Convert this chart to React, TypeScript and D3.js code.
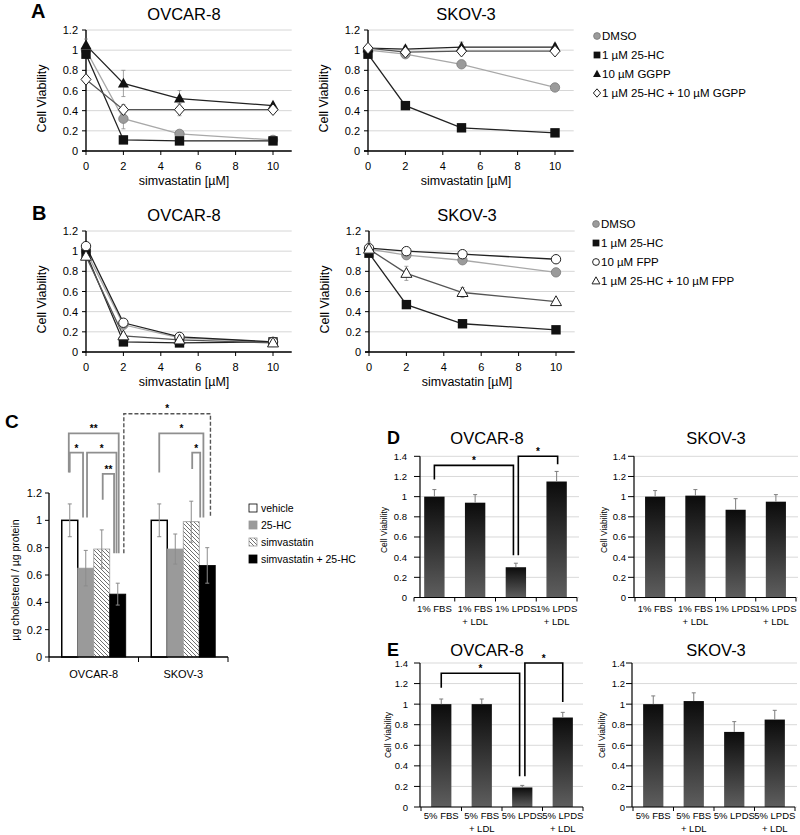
import React from "react";
import * as d3 from "d3";

const FONT = "'Liberation Sans', Arial, Helvetica, sans-serif";

// ---------- Line charts (A, B) ----------
const doses = [0, 2, 5, 10];
const lineYTicks = [0, 0.2, 0.4, 0.6, 0.8, 1, 1.2];
const lineXTicks = [0, 2, 4, 6, 8, 10];

const legendA = ["DMSO", "1 µM 25-HC", "10 µM GGPP", "1 µM 25-HC + 10 µM GGPP"];
const legendB = ["DMSO", "1 µM 25-HC", "10 µM FPP", "1 µM 25-HC + 10 µM FPP"];
const markersA = ["grayCircle", "square", "triangle", "diamond"];
const markersB = ["grayCircle", "square", "whiteCircle", "whiteTriangle"];
const lineColors = ["#a8a8a8", "#222", "#222", "#555"];

// A – OVCAR-8
const aOvDmso = [1.0, 0.32, 0.17, 0.11];
const aOvDmsoErr = [0.03, 0.1, 0.03, 0.02];
const aOvHc = [0.96, 0.11, 0.1, 0.1];
const aOvHcErr = [0.03, 0.02, 0.02, 0.01];
const aOvGgpp = [1.05, 0.67, 0.52, 0.45];
const aOvGgppErr = [0.06, 0.13, 0.08, 0.02];
const aOvCombo = [0.71, 0.41, 0.41, 0.41];
const aOvComboErr = [0.03, 0.05, 0.06, 0.02];
// A – SKOV-3
const aSkDmso = [1.0, 0.96, 0.86, 0.63];
const aSkDmsoErr = [0.02, 0.02, 0.03, 0.03];
const aSkHc = [0.96, 0.45, 0.23, 0.18];
const aSkHcErr = [0.02, 0.02, 0.02, 0.02];
const aSkGgpp = [1.02, 1.01, 1.03, 1.03];
const aSkGgppErr = [0.02, 0.03, 0.05, 0.03];
const aSkCombo = [1.02, 0.98, 0.99, 0.99];
const aSkComboErr = [0.02, 0.02, 0.02, 0.02];
// B – OVCAR-8
const bOvDmso = [1.0, 0.27, 0.14, 0.1];
const bOvDmsoErr = [0.02, 0.02, 0.02, 0.01];
const bOvHc = [0.98, 0.1, 0.09, 0.1];
const bOvHcErr = [0.02, 0.02, 0.01, 0.01];
const bOvFpp = [1.05, 0.29, 0.15, 0.1];
const bOvFppErr = [0.02, 0.02, 0.02, 0.01];
const bOvCombo = [0.95, 0.16, 0.12, 0.09];
const bOvComboErr = [0.02, 0.02, 0.02, 0.01];
// B – SKOV-3
const bSkDmso = [1.02, 0.96, 0.91, 0.79];
const bSkDmsoErr = [0.03, 0.02, 0.02, 0.03];
const bSkHc = [0.98, 0.47, 0.28, 0.22];
const bSkHcErr = [0.03, 0.02, 0.02, 0.02];
const bSkFpp = [1.03, 1.0, 0.97, 0.92];
const bSkFppErr = [0.02, 0.02, 0.02, 0.02];
const bSkCombo = [1.02, 0.78, 0.59, 0.5];
const bSkComboErr = [0.07, 0.07, 0.05, 0.03];

// ---------- Panel C ----------
const cGroups = ["OVCAR-8", "SKOV-3"];
const cSeries = ["vehicle", "25-HC", "simvastatin", "simvastatin + 25-HC"];
const cOvcar = [1.0, 0.65, 0.79, 0.46];
const cOvcarErr = [0.12, 0.13, 0.14, 0.08];
const cSkov = [1.0, 0.79, 0.99, 0.67];
const cSkovErr = [0.12, 0.11, 0.15, 0.13];
const cYTicks = [0, 0.2, 0.4, 0.6, 0.8, 1, 1.2];
// significance brackets: [group, series, fraction-in-bar] ends, bar height, leg ends
const cBrackets = [
  { a: [0, 0, 0.44], b: [0, 3, 0.56], h: 1.636, ha: 1.35, hb: 0.76, label: "**", dashed: false },
  { a: [0, 0, 0.5], b: [0, 1, 0.33], h: 1.495, ha: 1.35, hb: 1.02, label: "*", dashed: false },
  { a: [0, 1, 0.58], b: [0, 3, 0.42], h: 1.495, ha: 1.02, hb: 0.76, label: "*", dashed: false },
  { a: [0, 2, 0.56], b: [0, 3, 0.27], h: 1.34, ha: 1.15, hb: 0.76, label: "**", dashed: false },
  { a: [0, 3, 0.88], b: [1, 3, 0.7], h: 1.78, ha: 0.76, hb: 1.02, label: "*", dashed: true },
  { a: [1, 0, 0.5], b: [1, 3, 0.26], h: 1.636, ha: 1.35, hb: 1.02, label: "*", dashed: false },
  { a: [1, 2, 0.56], b: [1, 3, 0.06], h: 1.495, ha: 1.375, hb: 1.02, label: "*", dashed: false },
];

// ---------- Panels D, E ----------
const barYTicks = [0, 0.2, 0.4, 0.6, 0.8, 1, 1.2, 1.4];
const dCats = [["1% FBS"], ["1% FBS", "+ LDL"], ["1% LPDS"], ["1% LPDS", "+ LDL"]];
const eCats = [["5% FBS"], ["5% FBS", "+ LDL"], ["5% LPDS"], ["5% LPDS", "+ LDL"]];
const dOvcar = [1.0, 0.94, 0.3, 1.15];
const dOvcarErr = [0.07, 0.08, 0.04, 0.1];
const dSkov = [1.0, 1.01, 0.87, 0.95];
const dSkovErr = [0.06, 0.06, 0.11, 0.07];
const eOvcar = [1.0, 1.0, 0.19, 0.87];
const eOvcarErr = [0.05, 0.05, 0.02, 0.05];
const eSkov = [1.0, 1.03, 0.73, 0.85];
const eSkovErr = [0.08, 0.08, 0.1, 0.09];
const dBrackets = [
  { a: [0, 0.5], b: [2, 0.38], h: 1.31, ha: 1.17, hb: 0.42 },
  { a: [2, 0.62], b: [3, 0.55], h: 1.4, ha: 0.42, hb: 1.32 },
];
const eBrackets = [
  { a: [0, 0.5], b: [2, 0.37], h: 1.3, ha: 1.16, hb: 0.3 },
  { a: [2, 0.63], b: [3, 0.5], h: 1.4, ha: 0.3, hb: 1.02 },
];

const fmt = (v: number) => d3.format("~g")(v);

function Marker({ type, cx, cy, s = 1 }: { type: string; cx: number; cy: number; s?: number }) {
  const r = 4.7 * s;
  switch (type) {
    case "grayCircle":
      return <circle cx={cx} cy={cy} r={r} fill="#9b9b9b" stroke="#7a7a7a" strokeWidth={0.8} />;
    case "whiteCircle":
      return <circle cx={cx} cy={cy} r={r} fill="#fff" stroke="#222" strokeWidth={1} />;
    case "square":
      return <rect x={cx - r} y={cy - r} width={2 * r} height={2 * r} fill="#111" />;
    case "triangle":
      return <path d={`M${cx},${cy - 5.8 * s}L${cx + 5.5 * s},${cy + 4 * s}L${cx - 5.5 * s},${cy + 4 * s}Z`} fill="#111" />;
    case "whiteTriangle":
      return (
        <path d={`M${cx},${cy - 5.8 * s}L${cx + 5.5 * s},${cy + 4 * s}L${cx - 5.5 * s},${cy + 4 * s}Z`} fill="#fff" stroke="#222" strokeWidth={1} />
      );
    case "diamond":
      return (
        <path d={`M${cx},${cy - 5.8 * s}L${cx + 5 * s},${cy}L${cx},${cy + 5.8 * s}L${cx - 5 * s},${cy}Z`} fill="#fff" stroke="#222" strokeWidth={1} />
      );
    default:
      return null;
  }
}

type LineSeries = { vals: number[]; errs: number[]; marker: string; color: string };

function LineChart({ x0, yTop, yBot, title, titleY, ylabX, series }: {
  x0: number; yTop: number; yBot: number; title: string; titleY: number; ylabX: number; series: LineSeries[];
}) {
  const x = d3.scaleLinear().domain([0, 10]).range([x0, x0 + 187]);
  const y = d3.scaleLinear().domain([0, 1.2]).range([yBot, yTop]);
  const xEnd = x(11);
  const line = d3.line<number>().x((_, i) => x(doses[i])).y((d) => y(d));
  const cx = x0 + 98;
  return (
    <g>
      {lineYTicks.map((t) => (
        <line key={"g" + t} x1={x0} x2={xEnd} y1={y(t)} y2={y(t)} stroke="#d6d6d6" strokeWidth={1} />
      ))}
      <line x1={x0} x2={x0} y1={yTop} y2={yBot} stroke="#000" strokeWidth={1.4} />
      <line x1={x0 - 4} x2={xEnd} y1={yBot} y2={yBot} stroke="#000" strokeWidth={1.4} />
      {lineYTicks.map((t) => (
        <g key={"y" + t}>
          <line x1={x0 - 4} x2={x0} y1={y(t)} y2={y(t)} stroke="#000" />
          <text x={x0 - 8} y={y(t) + 4} textAnchor="end" fontSize={11}>{fmt(t)}</text>
        </g>
      ))}
      {lineXTicks.map((t) => (
        <g key={"x" + t}>
          <line x1={x(t)} x2={x(t)} y1={yBot} y2={yBot + 4} stroke="#000" />
          <text x={x(t)} y={yBot + 19} textAnchor="middle" fontSize={11}>{t}</text>
        </g>
      ))}
      {series.map((s, k) => (
        <path key={"l" + k} d={line(s.vals) || ""} fill="none" stroke={s.color} strokeWidth={1.3} />
      ))}
      {series.map((s, k) =>
        s.vals.map((v, i) => (
          <g key={`e${k}-${i}`} stroke="#8a8a8a" strokeWidth={0.8}>
            <line x1={x(doses[i])} x2={x(doses[i])} y1={y(v - s.errs[i])} y2={y(v + s.errs[i])} />
            <line x1={x(doses[i]) - 2} x2={x(doses[i]) + 2} y1={y(v + s.errs[i])} y2={y(v + s.errs[i])} />
            <line x1={x(doses[i]) - 2} x2={x(doses[i]) + 2} y1={y(v - s.errs[i])} y2={y(v - s.errs[i])} />
          </g>
        ))
      )}
      {series.map((s, k) =>
        s.vals.map((v, i) => <Marker key={`m${k}-${i}`} type={s.marker} cx={x(doses[i])} cy={y(v)} />)
      )}
      <text x={cx} y={titleY} textAnchor="middle" fontSize={16.5}>{title}</text>
      <text x={cx} y={yBot + 34} textAnchor="middle" fontSize={12.5}>simvastatin [µM]</text>
      <text transform={`translate(${ylabX},${(yTop + yBot) / 2 + 8}) rotate(-90)`} textAnchor="middle" fontSize={12.5}>Cell Viability</text>
    </g>
  );
}

function Legend({ x, y0, dy, labels, markers }: { x: number; y0: number; dy: number; labels: string[]; markers: string[] }) {
  return (
    <g>
      {labels.map((l, i) => (
        <g key={l}>
          <Marker type={markers[i]} cx={x} cy={y0 + i * dy - 4} s={0.72} />
          <text x={x + 5} y={y0 + i * dy} fontSize={11.5}>{l}</text>
        </g>
      ))}
    </g>
  );
}

const cFills = ["#fff", "#9a9a9a", "url(#hatch)", "#000"];
const cStrokes = ["#000", "#9a9a9a", "#9a9a9a", "#000"];

function PanelC() {
  const x0 = 49, x1 = 228, yBot = 657, yTop = 493;
  const y = d3.scaleLinear().domain([0, 1.2]).range([yBot, yTop]);
  const gx = d3.scaleBand().domain(cGroups).range([x0, x1]);
  const bw = 16;
  const sx = d3.scaleBand().domain(cSeries).range([gx.bandwidth() / 2 - 2 * bw, gx.bandwidth() / 2 + 2 * bw]);
  const data = [cOvcar, cSkov];
  const errs = [cOvcarErr, cSkovErr];
  const barX = (g: number, s: number) => (gx(cGroups[g]) as number) + (sx(cSeries[s]) as number);
  return (
    <g>
      {data.map((vals, g) =>
        vals.map((v, s) => (
          <rect key={`b${g}${s}`} x={barX(g, s)} y={y(v)} width={sx.bandwidth()} height={yBot - y(v)}
            fill={cFills[s]} stroke={cStrokes[s]} strokeWidth={s === 0 ? 1.5 : 0.8} />
        ))
      )}
      {data.map((vals, g) =>
        vals.map((v, s) => {
          const cx = barX(g, s) + sx.bandwidth() / 2;
          return (
            <g key={`e${g}${s}`} stroke="#8c8c8c" strokeWidth={1}>
              <line x1={cx} x2={cx} y1={y(v - errs[g][s])} y2={y(v + errs[g][s])} />
              <line x1={cx - 2} x2={cx + 2} y1={y(v + errs[g][s])} y2={y(v + errs[g][s])} />
              <line x1={cx - 2} x2={cx + 2} y1={y(v - errs[g][s])} y2={y(v - errs[g][s])} />
            </g>
          );
        })
      )}
      <line x1={x0} x2={x0} y1={yTop} y2={yBot} stroke="#000" strokeWidth={1.3} />
      <line x1={x0} x2={x1} y1={yBot} y2={yBot} stroke="#000" strokeWidth={1.3} />
      {cYTicks.map((t) => (
        <g key={t}>
          <line x1={x0 - 4} x2={x0} y1={y(t)} y2={y(t)} stroke="#000" />
          <text x={x0 - 7} y={y(t) + 4} textAnchor="end" fontSize={11}>{fmt(t)}</text>
        </g>
      ))}
      {[x0, x0 + gx.step(), x1].map((t, i) => (
        <line key={i} x1={t} x2={t} y1={yBot} y2={yBot + 5} stroke="#000" />
      ))}
      {cGroups.map((g) => (
        <text key={g} x={(gx(g) as number) + gx.bandwidth() / 2} y={yBot + 21} textAnchor="middle" fontSize={11}>{g}</text>
      ))}
      <text transform={`translate(19,580) rotate(-90)`} textAnchor="middle" fontSize={10.5}>µg cholesterol / µg protein</text>
      {cBrackets.map((b, i) => {
        const xa = barX(b.a[0], b.a[1]) + b.a[2] * bw;
        const xb = barX(b.b[0], b.b[1]) + b.b[2] * bw;
        return (
          <g key={i}>
            <path d={`M${xa},${y(b.ha)}V${y(b.h)}H${xb}V${y(b.hb)}`} fill="none"
              stroke={b.dashed ? "#555" : "#8f8f8f"} strokeWidth={b.dashed ? 1.4 : 1.8}
              strokeDasharray={b.dashed ? "4,2" : undefined} />
            <text x={(xa + xb) / 2} y={y(b.h) - (b.dashed ? 2 : 1)} textAnchor="middle" fontSize={10} fontWeight="bold">{b.label}</text>
          </g>
        );
      })}
      {cSeries.map((s, i) => (
        <g key={s}>
          <rect x={249} y={[512, 528, 546, 563][0] - 8 + i * 17} width={8} height={8} fill={cFills[i]} stroke={cStrokes[i]} strokeWidth={0.8} />
          <text x={261} y={512 + i * 17} fontSize={10.5}>{s}</text>
        </g>
      ))}
    </g>
  );
}

type Br = { a: number[]; b: number[]; h: number; ha: number; hb: number };

function BarChart({ axisX, rangeL, rangeR, gridR, yZero, yTop, vals, errs, cats, labY, labelEnd, title, titleX, titleY, ylabX, ylabY, brackets }: {
  axisX: number; rangeL: number; rangeR: number; gridR: number; yZero: number; yTop: number; vals: number[]; errs: number[];
  cats: string[][]; labY: number; labelEnd: number; title: string; titleX: number; titleY: number; ylabX: number; ylabY: number; brackets: Br[];
}) {
  const x = d3.scaleBand<number>().domain(d3.range(vals.length)).range([rangeL, rangeR]).paddingInner(0.5).paddingOuter(0.25);
  const y = d3.scaleLinear().domain([0, 1.4]).range([yZero, yTop]);
  const step = x.step();
  const bounds = d3.range(vals.length + 1).map((i) => rangeL + i * step);
  return (
    <g>
      {barYTicks.map((t) => (
        <line key={"g" + t} x1={axisX} x2={gridR} y1={y(t)} y2={y(t)} stroke="#d9d9d9" />
      ))}
      {vals.map((v, i) => (
        <rect key={"b" + i} x={x(i)} y={y(v)} width={x.bandwidth()} height={yZero - y(v)} fill="url(#barGrad)" />
      ))}
      {vals.map((v, i) => {
        const cx = (x(i) as number) + x.bandwidth() / 2;
        return (
          <g key={"e" + i} stroke="#7d7d7d" strokeWidth={1}>
            <line x1={cx} x2={cx} y1={y(v)} y2={y(v + errs[i])} />
            <line x1={cx - 2} x2={cx + 2} y1={y(v + errs[i])} y2={y(v + errs[i])} />
          </g>
        );
      })}
      <line x1={axisX} x2={axisX} y1={yTop} y2={yZero} stroke="#000" strokeWidth={1.2} />
      <line x1={Math.min(axisX, rangeL)} x2={rangeR} y1={yZero} y2={yZero} stroke="#000" strokeWidth={1.2} />
      {barYTicks.map((t) => (
        <g key={"y" + t}>
          <line x1={axisX - 6} x2={axisX} y1={y(t)} y2={y(t)} stroke="#000" />
          <text x={labelEnd} y={y(t) + 3.5} textAnchor="end" fontSize={9.5}>{fmt(t)}</text>
        </g>
      ))}
      {bounds.map((b, i) => (
        <line key={"t" + i} x1={b} x2={b} y1={yZero} y2={yZero + 4} stroke="#000" />
      ))}
      {cats.map((c, i) =>
        c.map((l, j) => (
          <text key={`c${i}${j}`} x={(x(i) as number) + x.bandwidth() / 2} y={labY + j * 13} textAnchor="middle" fontSize={9.5}>{l}</text>
        ))
      )}
      <text x={titleX} y={titleY} textAnchor="middle" fontSize={16.5}>{title}</text>
      <text transform={`translate(${ylabX},${ylabY}) rotate(-90)`} textAnchor="middle" fontSize={8.5}>Cell Viability</text>
      {brackets.map((b, i) => {
        const xa = (x(b.a[0]) as number) + b.a[1] * x.bandwidth();
        const xb = (x(b.b[0]) as number) + b.b[1] * x.bandwidth();
        return (
          <g key={"br" + i}>
            <path d={`M${xa},${y(b.ha)}V${y(b.h)}H${xb}V${y(b.hb)}`} fill="none" stroke="#000" strokeWidth={1.6} />
            <text x={(xa + xb) / 2} y={y(b.h) - 1} textAnchor="middle" fontSize={10} fontWeight="bold">*</text>
          </g>
        );
      })}
    </g>
  );
}

const mk = (vals: number[][], errs: number[][], markers: string[]): LineSeries[] =>
  vals.map((v, i) => ({ vals: v, errs: errs[i], marker: markers[i], color: lineColors[i] }));

export default function App() {
  return (
    <svg width={800} height={835} fontFamily={FONT} style={{ position: "absolute", left: 0, top: 0, background: "#fff" }}>
      <defs>
        <linearGradient id="barGrad" x1="0" y1="0" x2="0" y2="1">
          <stop offset="0" stopColor="#0b0b0b" />
          <stop offset="1" stopColor="#5e5e5e" />
        </linearGradient>
        <pattern id="hatch" width="4" height="4" patternUnits="userSpaceOnUse">
          <rect width="4" height="4" fill="#fff" />
          <path d="M-1,-1L5,5M-1,3L1,5M3,-1L5,1" stroke="#6f6f6f" strokeWidth="1" />
        </pattern>
      </defs>
      <rect width={800} height={835} fill="#fff" />

      {/* Panel A */}
      <text x={31} y={18} fontSize={20} fontWeight="bold">A</text>
      <LineChart x0={86} yTop={30} yBot={151} title="OVCAR-8" titleY={20} ylabX={46}
        series={mk([aOvDmso, aOvHc, aOvGgpp, aOvCombo], [aOvDmsoErr, aOvHcErr, aOvGgppErr, aOvComboErr], markersA)} />
      <LineChart x0={368} yTop={30} yBot={151} title="SKOV-3" titleY={20} ylabX={328}
        series={mk([aSkDmso, aSkHc, aSkGgpp, aSkCombo], [aSkDmsoErr, aSkHcErr, aSkGgppErr, aSkComboErr], markersA)} />
      <Legend x={597} y0={40} dy={19} labels={legendA} markers={markersA} />

      {/* Panel B */}
      <text x={32} y={220} fontSize={20} fontWeight="bold">B</text>
      <LineChart x0={86} yTop={231} yBot={352} title="OVCAR-8" titleY={221} ylabX={46}
        series={mk([bOvDmso, bOvHc, bOvFpp, bOvCombo], [bOvDmsoErr, bOvHcErr, bOvFppErr, bOvComboErr], markersB)} />
      <LineChart x0={369} yTop={231} yBot={352} title="SKOV-3" titleY={221} ylabX={329}
        series={mk([bSkDmso, bSkHc, bSkFpp, bSkCombo], [bSkDmsoErr, bSkHcErr, bSkFppErr, bSkComboErr], markersB)} />
      <Legend x={596} y0={228} dy={19} labels={legendB} markers={markersB} />

      {/* Panel C */}
      <text x={5} y={428} fontSize={19} fontWeight="bold">C</text>
      <PanelC />

      {/* Panel D */}
      <text x={387} y={444} fontSize={18} fontWeight="bold">D</text>
      <BarChart axisX={420} rangeL={414} rangeR={577} gridR={579} yZero={597.5} yTop={456.3} vals={dOvcar} errs={dOvcarErr}
        cats={dCats} labY={612} labelEnd={407} title="OVCAR-8" titleX={487} titleY={444} ylabX={387} ylabY={530} brackets={dBrackets} />
      <BarChart axisX={634} rangeL={635} rangeR={796} gridR={798} yZero={597.5} yTop={456.3} vals={dSkov} errs={dSkovErr}
        cats={dCats} labY={612} labelEnd={626} title="SKOV-3" titleX={716} titleY={444} ylabX={607} ylabY={530} brackets={[]} />

      {/* Panel E */}
      <text x={387} y={656} fontSize={18} fontWeight="bold">E</text>
      <BarChart axisX={420} rangeL={421} rangeR={583} gridR={583} yZero={807} yTop={663} vals={eOvcar} errs={eOvcarErr}
        cats={eCats} labY={819} labelEnd={408} title="OVCAR-8" titleX={487} titleY={656} ylabX={391} ylabY={735} brackets={eBrackets} />
      <BarChart axisX={632} rangeL={633} rangeR={795} gridR={797} yZero={807} yTop={663} vals={eSkov} errs={eSkovErr}
        cats={eCats} labY={819} labelEnd={625} title="SKOV-3" titleX={716} titleY={656} ylabX={605} ylabY={735} brackets={[]} />
    </svg>
  );
}
